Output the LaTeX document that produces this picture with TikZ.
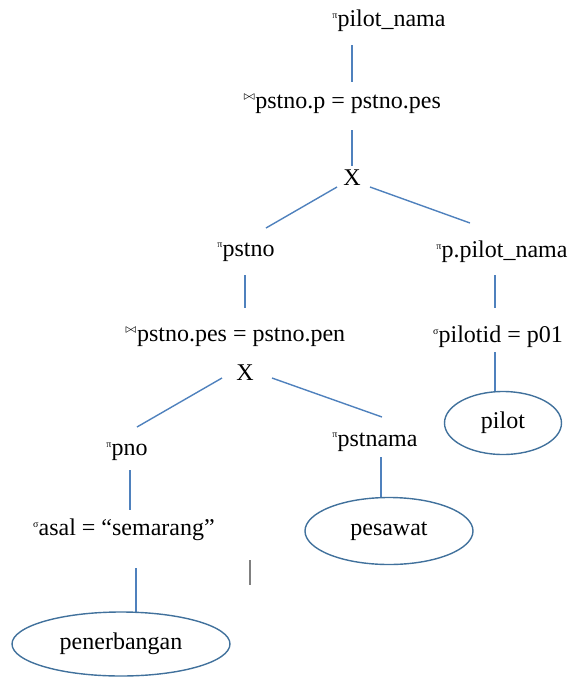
\documentclass[tikz,border=0pt]{standalone}
\usepackage{fontspec}
\setmainfont{Liberation Serif}
\usepackage{tikz}
\usetikzlibrary{shapes.geometric}
\pgfdeclarelayer{nodelayer}
\pgfdeclarelayer{edgelayer}
\pgfsetlayers{edgelayer,nodelayer,main}
\definecolor{linkblue}{RGB}{79,129,189}
\definecolor{ellblue}{RGB}{65,113,156}
\newcommand{\opsym}[1]{\raisebox{.75ex}{\fontsize{5}{5}\selectfont #1}}
\tikzstyle{none}=[inner sep=0pt, minimum size=0pt]
\tikzstyle{rel}=[inner sep=1pt, font=\fontsize{12}{14}\selectfont]
\tikzstyle{tbl}=[shape=ellipse, draw=ellblue, line width=0.7pt, inner sep=0pt, font=\fontsize{12}{14}\selectfont]
\tikzstyle{link}=[draw=linkblue, line width=0.7pt]
\tikzstyle{stray}=[draw=gray, line width=0.7pt]

\begin{document}
\begin{tikzpicture}[x=0.5pt,y=-0.5pt]
	\useasboundingbox (0,0) rectangle (570,677);
	\begin{pgfonlayer}{nodelayer}
		\node [style=rel] (0) at (389, 21) {\opsym{π}pilot\_nama};
		\node [style=rel] (1) at (342, 104) {\opsym{$\bowtie$}pstno.p = pstno.pes};
		\node [style=rel] (2) at (352, 178) {X};
		\node [style=rel] (3) at (246, 252) {\opsym{π}pstno};
		\node [style=rel] (4) at (502, 252) {\opsym{π}p.pilot\_nama};
		\node [style=rel] (5) at (235, 337) {\opsym{$\bowtie$}pstno.pes = pstno.pen};
		\node [style=rel] (6) at (498, 337) {\opsym{σ}pilotid = p01};
		\node [style=rel] (7) at (245, 373) {X};
		\node [style=rel] (8) at (127, 452) {\opsym{π}pno};
		\node [style=rel] (9) at (375, 442) {\opsym{π}pstnama};
		\node [style=rel] (10) at (124, 530) {\opsym{σ}asal = “semarang”};
		\node [style=tbl, minimum width=58.5pt, minimum height=31.5pt] (11) at (503, 423) {pilot};
		\node [style=tbl, minimum width=84pt, minimum height=33.5pt] (12) at (389, 531) {pesawat};
		\node [style=tbl, minimum width=109pt, minimum height=32pt] (13) at (121, 644) {penerbangan};
		\node [style=none] (20) at (352, 45) {};
		\node [style=none] (21) at (352, 82) {};
		\node [style=none] (22) at (352, 130) {};
		\node [style=none] (23) at (352, 166) {};
		\node [style=none] (24) at (337, 187) {};
		\node [style=none] (25) at (266, 228) {};
		\node [style=none] (26) at (370, 187) {};
		\node [style=none] (27) at (470, 223) {};
		\node [style=none] (28) at (245, 275) {};
		\node [style=none] (29) at (245, 308) {};
		\node [style=none] (30) at (495, 275) {};
		\node [style=none] (31) at (495, 308) {};
		\node [style=none] (32) at (222, 378) {};
		\node [style=none] (33) at (137, 427) {};
		\node [style=none] (34) at (272, 378) {};
		\node [style=none] (35) at (382, 417) {};
		\node [style=none] (36) at (495, 352) {};
		\node [style=none] (37) at (495, 392) {};
		\node [style=none] (38) at (130, 470) {};
		\node [style=none] (39) at (130, 510) {};
		\node [style=none] (40) at (381, 457) {};
		\node [style=none] (41) at (381, 498) {};
		\node [style=none] (42) at (136, 568) {};
		\node [style=none] (43) at (136, 612) {};
		\node [style=none] (44) at (250, 560) {};
		\node [style=none] (45) at (250, 585) {};
	\end{pgfonlayer}
	\begin{pgfonlayer}{edgelayer}
		\draw [style=link] (20.center) to (21.center);
		\draw [style=link] (22.center) to (23.center);
		\draw [style=link] (24.center) to (25.center);
		\draw [style=link] (26.center) to (27.center);
		\draw [style=link] (28.center) to (29.center);
		\draw [style=link] (30.center) to (31.center);
		\draw [style=link] (32.center) to (33.center);
		\draw [style=link] (34.center) to (35.center);
		\draw [style=link] (36.center) to (37.center);
		\draw [style=link] (38.center) to (39.center);
		\draw [style=link] (40.center) to (41.center);
		\draw [style=link] (42.center) to (43.center);
		\draw [style=stray] (44.center) to (45.center);
	\end{pgfonlayer}
\end{tikzpicture}
\end{document}
